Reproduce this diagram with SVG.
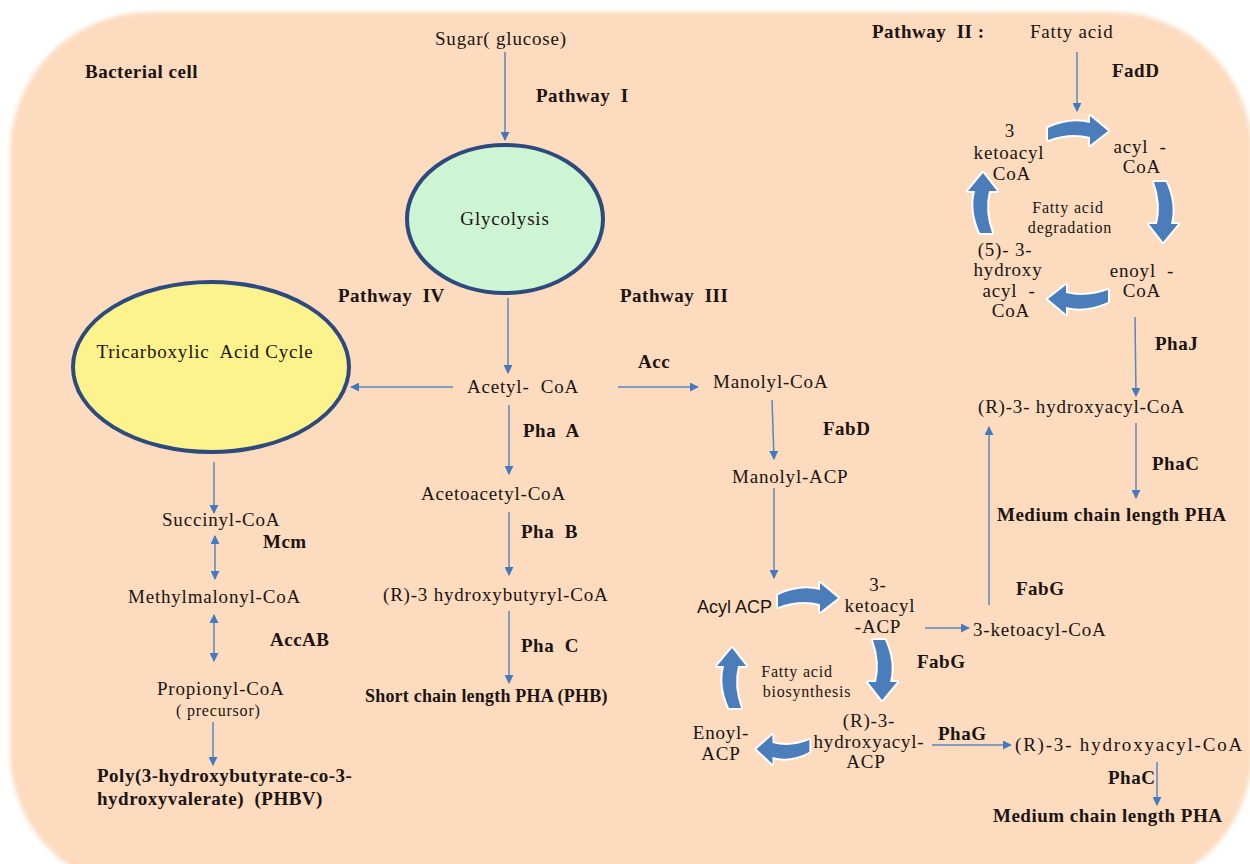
<svg xmlns="http://www.w3.org/2000/svg" width="1250" height="864" viewBox="0 0 1250 864">
<defs>
<style>
text{font-family:"Liberation Serif","Times New Roman",serif;font-size:19px;fill:#1c1410;letter-spacing:0.8px}
.b{font-weight:bold;letter-spacing:0.5px}
.s{font-size:16px}
.m{text-anchor:middle}
.sans{font-family:"Liberation Sans",Arial,sans-serif;font-size:18px;letter-spacing:0}
.ln{stroke:#5A86BF;stroke-width:1.5;fill:none}
.blk{fill:#4A7DBA;stroke:#ffffff;stroke-width:4;paint-order:stroke;stroke-linejoin:round}
</style>
<marker id="ah" viewBox="0 0 10 10" refX="9" refY="5" markerWidth="9" markerHeight="9" markerUnits="userSpaceOnUse" orient="auto-start-reverse">
<path d="M0,0 L10,5 L0,10 z" fill="#4579BE"/>
</marker>
<path id="blk" d="M-30,-2 Q-8,-12 12,-7 L12,-14 L30,1 L12,15 L12,7 Q-8,2 -30,10 Z"/>
<filter id="soft" x="-5%" y="-5%" width="110%" height="110%"><feGaussianBlur stdDeviation="2"/></filter>
</defs>
<rect width="1250" height="864" fill="#ffffff"/>
<rect x="10" y="12" width="1242" height="880" rx="140" ry="140" fill="#FCDBBF" filter="url(#soft)"/>

<g id="connectors">
<line class="ln" x1="505" y1="52" x2="505" y2="140" marker-end="url(#ah)"/>
<line class="ln" x1="508" y1="298" x2="508" y2="373" marker-end="url(#ah)"/>
<line class="ln" x1="453" y1="387" x2="351" y2="387" marker-end="url(#ah)"/>
<line class="ln" x1="618" y1="387" x2="698" y2="387" marker-end="url(#ah)"/>
<line class="ln" x1="509" y1="405" x2="509" y2="474" marker-end="url(#ah)"/>
<line class="ln" x1="509" y1="512" x2="509" y2="575" marker-end="url(#ah)"/>
<line class="ln" x1="509" y1="611" x2="509" y2="683" marker-end="url(#ah)"/>
<line class="ln" x1="772" y1="400" x2="774" y2="459" marker-end="url(#ah)"/>
<line class="ln" x1="774" y1="488" x2="774" y2="578" marker-end="url(#ah)"/>
<line class="ln" x1="214" y1="462" x2="214" y2="513" marker-end="url(#ah)"/>
<line class="ln" x1="215" y1="536" x2="215" y2="579" marker-start="url(#ah)" marker-end="url(#ah)"/>
<line class="ln" x1="214" y1="615" x2="214" y2="661" marker-start="url(#ah)" marker-end="url(#ah)"/>
<line class="ln" x1="213" y1="722" x2="213" y2="765" marker-end="url(#ah)"/>
<line class="ln" x1="1077" y1="52" x2="1077" y2="111" marker-end="url(#ah)"/>
<line class="ln" x1="1135" y1="317" x2="1136" y2="396" marker-end="url(#ah)"/>
<line class="ln" x1="1136" y1="423" x2="1136" y2="498" marker-end="url(#ah)"/>
<line class="ln" x1="925" y1="628" x2="969" y2="628" marker-end="url(#ah)"/>
<line class="ln" x1="989" y1="605" x2="989" y2="427" marker-end="url(#ah)"/>
<line class="ln" x1="932" y1="745" x2="1011" y2="745" marker-end="url(#ah)"/>
<line class="ln" x1="1157" y1="762" x2="1157" y2="805" marker-end="url(#ah)"/>
<!-- block arrows: degradation cycle -->
<use href="#blk" class="blk" transform="translate(1078,130)"/>
<use href="#blk" class="blk" transform="translate(1164,212) rotate(90)"/>
<use href="#blk" class="blk" transform="translate(1078,300) rotate(180)"/>
<use href="#blk" class="blk" transform="translate(982,203) rotate(270)"/>
<!-- block arrows: biosynthesis cycle -->
<use href="#blk" class="blk" transform="translate(808,597)"/>
<use href="#blk" class="blk" transform="translate(883,670) rotate(90)"/>
<use href="#blk" class="blk" transform="translate(783,750) rotate(180) scale(0.88,1)"/>
<use href="#blk" class="blk" transform="translate(731,678) rotate(270)"/>
</g>

<g id="cell-label"><text class="b" x="85" y="78">Bacterial cell</text></g>
<g id="sugar"><text x="435" y="45">Sugar( glucose)</text></g>
<g id="pathway1"><text class="b" x="536" y="102" xml:space="preserve">Pathway  I</text></g>
<g id="pathway2"><text class="b" x="872" y="38" xml:space="preserve">Pathway  II :</text></g>
<g id="fatty-acid"><text x="1030" y="38">Fatty acid</text></g>
<g id="fadd"><text class="b" x="1112" y="77">FadD</text></g>

<g id="glycolysis">
<ellipse cx="505" cy="219" rx="98" ry="74" fill="#CDF5D3" stroke="#2E4A7D" stroke-width="4"/>
<text class="m" x="505" y="225">Glycolysis</text>
</g>
<g id="pathway4"><text class="b" x="338" y="302" xml:space="preserve">Pathway  IV</text></g>
<g id="pathway3"><text class="b" x="620" y="302" xml:space="preserve">Pathway  III</text></g>

<g id="tca">
<ellipse cx="211" cy="367" rx="138" ry="85" fill="#FCF38C" stroke="#2E4A7D" stroke-width="4"/>
<text class="m" x="205" y="358" xml:space="preserve">Tricarboxylic  Acid Cycle</text>
</g>

<g id="acetyl-coa"><text x="467" y="393" xml:space="preserve">Acetyl-  CoA</text></g>
<g id="acc"><text class="b" x="638" y="368">Acc</text></g>
<g id="manolyl-coa"><text x="713" y="388">Manolyl-CoA</text></g>
<g id="phaA"><text class="b" x="523" y="437" xml:space="preserve">Pha  A</text></g>
<g id="fabD"><text class="b" x="823" y="435">FabD</text></g>
<g id="acetoacetyl"><text x="421" y="500">Acetoacetyl-CoA</text></g>
<g id="manolyl-acp"><text x="732" y="483">Manolyl-ACP</text></g>
<g id="phaB"><text class="b" x="521" y="538" xml:space="preserve">Pha  B</text></g>
<g id="r3hb"><text x="383" y="601">(R)-3 hydroxybutyryl-CoA</text></g>
<g id="phaC1"><text class="b" x="521" y="652" xml:space="preserve">Pha  C</text></g>
<g id="scl-pha"><text class="b" x="365" y="702" style="font-size:18px;letter-spacing:0.2px">Short chain length PHA (PHB)</text></g>

<g id="succinyl"><text x="162" y="526">Succinyl-CoA</text></g>
<g id="mcm"><text class="b" x="263" y="548">Mcm</text></g>
<g id="methylmalonyl"><text x="128" y="603">Methylmalonyl-CoA</text></g>
<g id="accab"><text class="b" x="270" y="646">AccAB</text></g>
<g id="propionyl">
<text x="157" y="695">Propionyl-CoA</text>
<text class="s" x="176" y="716">( precursor)</text>
</g>
<g id="phbv">
<text class="b" x="97" y="782">Poly(3-hydroxybutyrate-co-3-</text>
<text class="b" x="97" y="805" xml:space="preserve">hydroxyvalerate)  (PHBV)</text>
</g>

<g id="degradation-cycle">
<text class="m" x="1010" y="137">3</text>
<text class="m" x="1009" y="159">ketoacyl</text>
<text class="m" x="1012" y="180">CoA</text>
<text class="m" x="1140" y="153" xml:space="preserve">acyl  -</text>
<text class="m" x="1142" y="173">CoA</text>
<text class="m s" x="1068" y="213">Fatty acid</text>
<text class="m s" x="1070" y="233">degradation</text>
<text class="m" x="1005" y="256">(5)- 3-</text>
<text class="m" x="1008" y="276">hydroxy</text>
<text class="m" x="1009" y="297" xml:space="preserve">acyl  -</text>
<text class="m" x="1011" y="317">CoA</text>
<text class="m" x="1142" y="277" xml:space="preserve">enoyl  -</text>
<text class="m" x="1142" y="297">CoA</text>
</g>
<g id="phaJ"><text class="b" x="1155" y="350">PhaJ</text></g>
<g id="r3ha-coa-1"><text x="978" y="413">(R)-3- hydroxyacyl-CoA</text></g>
<g id="phaC2"><text class="b" x="1152" y="470">PhaC</text></g>
<g id="mcl-pha-1"><text class="b" x="997" y="521">Medium chain length PHA</text></g>

<g id="biosynthesis-cycle">
<text class="sans" x="697" y="613">Acyl ACP</text>
<text class="m" x="878" y="591">3-</text>
<text class="m" x="880" y="612">ketoacyl</text>
<text class="m" x="878" y="633">-ACP</text>
<text class="m s" x="797" y="677">Fatty acid</text>
<text class="m s" x="807" y="697">biosynthesis</text>
<text class="m" x="869" y="727">(R)-3-</text>
<text class="m" x="869" y="748">hydroxyacyl-</text>
<text class="m" x="866" y="768">ACP</text>
<text class="m" x="721" y="739">Enoyl-</text>
<text class="m" x="721" y="760">ACP</text>
</g>
<g id="fabG1"><text class="b" x="1016" y="595">FabG</text></g>
<g id="ketoacyl-coa"><text x="973" y="636">3-ketoacyl-CoA</text></g>
<g id="fabG2"><text class="b" x="917" y="668">FabG</text></g>
<g id="phaG"><text class="b" x="938" y="740">PhaG</text></g>
<g id="r3ha-coa-2"><text x="1015" y="751" textLength="228" lengthAdjust="spacing">(R)-3- hydroxyacyl-CoA</text></g>
<g id="phaC3"><text class="b" x="1108" y="784">PhaC</text></g>
<g id="mcl-pha-2"><text class="b" x="993" y="822">Medium chain length PHA</text></g>
</svg>
